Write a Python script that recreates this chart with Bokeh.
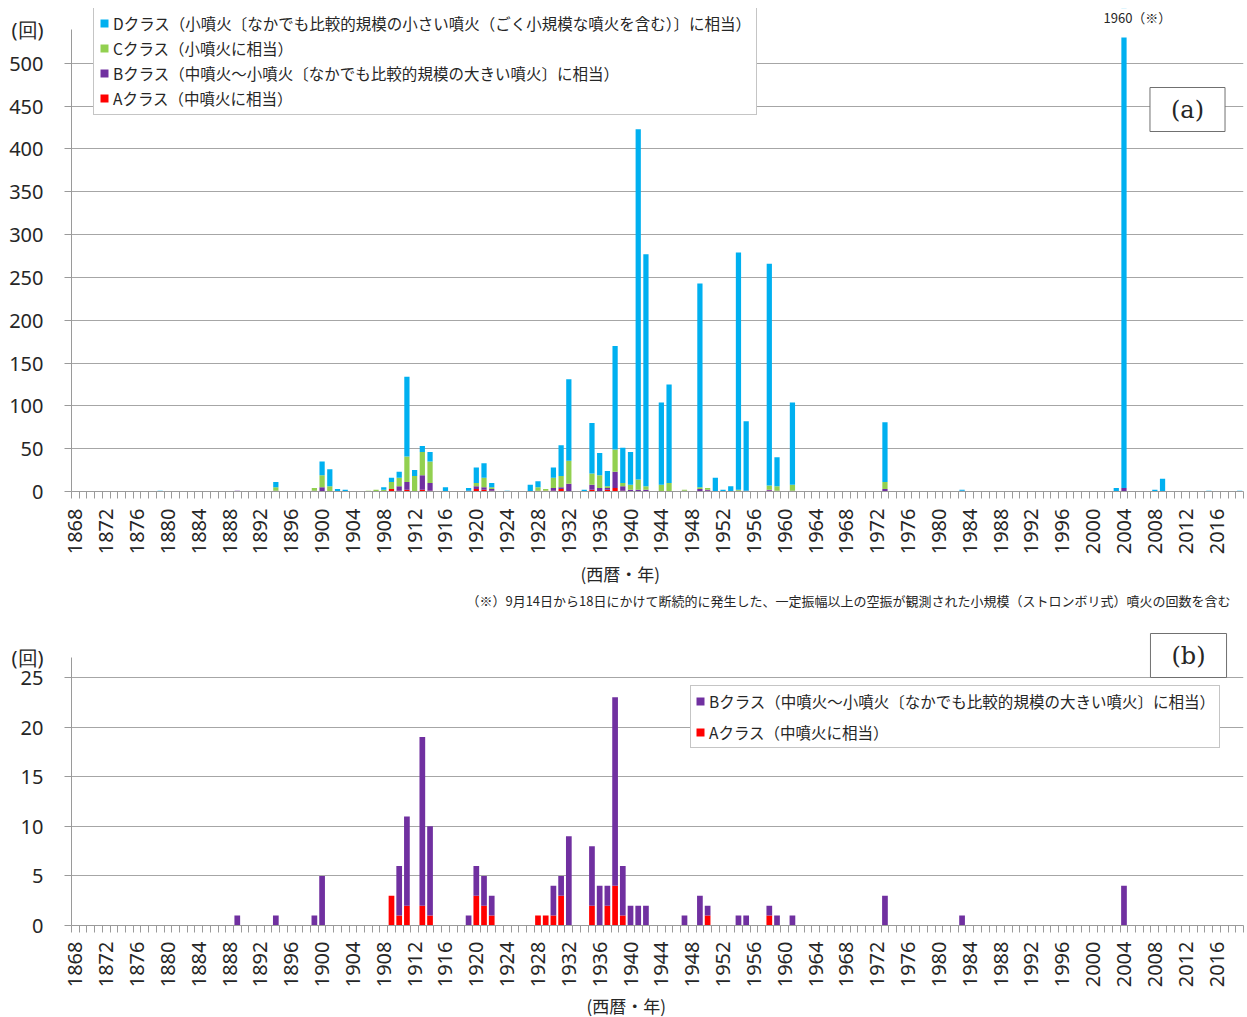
import numpy as np
from bokeh.plotting import figure
from bokeh.models import ColumnDataSource, FixedTicker, Legend, LegendItem, Label, Title
from bokeh.layouts import column
from bokeh.embed import file_html
from bokeh.resources import INLINE

# ---------------- data ----------------
YEARS = list(range(1868, 2020))
TICK_YEARS = list(range(1868, 2017, 4))
Y_TICKS_A = list(range(0, 501, 50))
Y_TICKS_B = list(range(0, 26, 5))
Y_MAX_A = 530          # visible top of the (a) value axis

# counts per year (years not listed = 0)
A_CLASS = {1909: 3, 1910: 1, 1911: 2, 1913: 2, 1914: 1, 1920: 3, 1921: 2, 1922: 1,
           1928: 1, 1929: 1, 1930: 1, 1931: 3, 1935: 2, 1937: 2, 1938: 4, 1939: 1,
           1950: 1, 1958: 1}
B_CLASS = {1889: 1, 1894: 1, 1899: 1, 1900: 5, 1910: 5, 1911: 9, 1913: 17, 1914: 9,
           1919: 1, 1920: 3, 1921: 3, 1922: 2, 1930: 3, 1931: 2, 1932: 9, 1935: 6,
           1936: 4, 1937: 2, 1938: 19, 1939: 5, 1940: 2, 1941: 2, 1942: 2, 1947: 1,
           1949: 3, 1950: 1, 1954: 1, 1955: 1, 1958: 1, 1959: 1, 1961: 1, 1973: 3,
           1983: 1, 2004: 4}
C_CLASS = {1894: 4, 1899: 3, 1900: 14, 1901: 6, 1906: 1, 1907: 2, 1908: 2, 1909: 8,
           1910: 10, 1911: 30, 1912: 18, 1913: 27, 1914: 25, 1920: 4, 1921: 11,
           1922: 2, 1928: 4, 1929: 2, 1930: 12, 1931: 13, 1932: 27, 1935: 13,
           1936: 15, 1937: 2, 1938: 26, 1939: 4, 1940: 6, 1941: 12, 1942: 4,
           1944: 8, 1945: 10, 1947: 1, 1949: 2, 1950: 2, 1954: 1, 1958: 5,
           1959: 5, 1961: 7, 1973: 8}
D_CLASS = {1879: 1, 1894: 6, 1900: 16, 1901: 20, 1902: 3, 1903: 2, 1908: 3, 1909: 5,
           1910: 7, 1911: 93, 1912: 7, 1913: 7, 1914: 11, 1916: 5, 1919: 3, 1920: 18,
           1921: 17, 1922: 5, 1924: 1, 1927: 8, 1928: 7, 1930: 12, 1931: 36,
           1932: 95, 1934: 2, 1935: 59, 1936: 26, 1937: 18, 1938: 121, 1939: 41,
           1940: 38, 1941: 409, 1942: 271, 1944: 96, 1945: 115, 1949: 238,
           1951: 16, 1952: 2, 1953: 6, 1954: 277, 1955: 81, 1958: 259, 1959: 34,
           1961: 96, 1973: 70, 1983: 1, 2003: 4, 2004: 1956, 2008: 2, 2009: 15,
           2015: 1, 2019: 1}

LABEL_D = "Dクラス（小噴火〔なかでも比較的規模の小さい噴火（ごく小規模な噴火を含む）〕に相当）"
LABEL_C = "Cクラス（小噴火に相当）"
LABEL_B = "Bクラス（中噴火～小噴火〔なかでも比較的規模の大きい噴火〕に相当）"
LABEL_A = "Aクラス（中噴火に相当）"
X_TITLE = "(西暦・年)"
Y_UNIT = "(回)"
NOTE = "（※）9月14日から18日にかけて断続的に発生した、一定振幅以上の空振が観測された小規模（ストロンボリ式）噴火の回数を含む"
OVER_LABEL = "1960（※）"


def series(d):
    return [d.get(y, 0) for y in YEARS]


src = ColumnDataSource(dict(year=YEARS, A=series(A_CLASS), B=series(B_CLASS),
                            C=series(C_CLASS), D=series(D_CLASS)))

BLUE, GREEN, PURPLE, RED = "#00B0F0", "#92D050", "#7030A0", "#FF0000"
JP = "Noto Sans CJK JP"
NUM = "Noto Sans"
GRID = "#a6a6a6"
AX = "#9a9a9a"
TXT = "#262626"


def style_axes(p, yticks, unit_pos, xstandoff):
    p.outline_line_color = None
    p.xgrid.visible = False
    p.ygrid.ticker = FixedTicker(ticks=yticks)
    p.ygrid.grid_line_color = GRID
    p.ygrid.grid_line_width = 1
    # value axis; the unit "(回)" is shown as an extra label above the top tick
    p.yaxis.ticker = FixedTicker(ticks=yticks + [unit_pos], minor_ticks=yticks)
    p.yaxis.major_label_overrides = {unit_pos: Y_UNIT}
    p.yaxis.bounds = (0, unit_pos)
    p.yaxis.axis_line_color = AX
    p.yaxis.major_tick_line_color = None
    p.yaxis.major_tick_out = 0
    p.yaxis.major_tick_in = 0
    p.yaxis.minor_tick_line_color = AX
    p.yaxis.minor_tick_out = 7
    p.yaxis.minor_tick_in = 0
    p.yaxis.major_label_text_font = NUM
    p.yaxis.major_label_text_font_size = "20px"
    p.yaxis.major_label_text_color = TXT
    p.yaxis.major_label_standoff = 21
    p.xaxis.ticker = FixedTicker(ticks=TICK_YEARS,
                                 minor_ticks=[y - 0.5 for y in range(1868, 2021)])
    p.xaxis.axis_line_color = AX
    p.xaxis.major_tick_out = 0
    p.xaxis.major_tick_in = 0
    p.xaxis.minor_tick_out = 7
    p.xaxis.minor_tick_in = 0
    p.xaxis.minor_tick_line_color = AX
    p.xaxis.major_label_orientation = np.pi / 2
    p.xaxis.major_label_text_font = NUM
    p.xaxis.major_label_text_font_size = "20px"
    p.xaxis.major_label_text_color = TXT
    p.xaxis.major_label_standoff = xstandoff


def make_legend(items, loc, label_h, spacing, pad):
    return Legend(items=items, location=loc, orientation="vertical",
                  label_text_font=JP, label_text_font_size="15.5px", label_text_color=TXT,
                  glyph_width=10, glyph_height=10, label_height=label_h, spacing=spacing,
                  padding=pad, margin=0, label_standoff=4,
                  border_line_color="#8c8c8c", background_fill_color="white",
                  background_fill_alpha=1)


# ---------------- panel (a) ----------------
pa = figure(width=1245, height=614, x_range=(1867.5, 2019.5), y_range=(0, 564),
            output_backend="svg", toolbar_location=None,
            min_border_left=71, min_border_right=2, min_border_top=8, min_border_bottom=123)
style_axes(pa, Y_TICKS_A, 539, 10)

ra = pa.vbar_stack(["A", "B", "C", "D"], x="year", width=0.68, source=src,
                   fill_color=[RED, PURPLE, GREEN, BLUE], line_color=None)
# the value axis stops at Y_MAX_A: bars taller than that are cut there
pa.quad(left=[1867.5], right=[2019.5], bottom=[Y_MAX_A], top=[600],
        fill_color="white", line_color=None)

pa.add_layout(make_legend([LegendItem(label=LABEL_D, renderers=[ra[3]]),
                           LegendItem(label=LABEL_C, renderers=[ra[2]]),
                           LegendItem(label=LABEL_B, renderers=[ra[1]]),
                           LegendItem(label=LABEL_A, renderers=[ra[0]])],
                          (22, 376), 21, 3, 5))

pa.add_layout(Label(x=1116, y=382, x_units="screen", y_units="screen", text="(a)",
                    text_font="DejaVu Serif", text_font_size="24px", text_color=TXT,
                    text_align="center", text_baseline="middle",
                    background_fill_color="white", border_line_color="#707070",
                    padding=(21, 8)))
pa.add_layout(Label(x=1032, y=474, x_units="screen", y_units="screen", text=OVER_LABEL,
                    text_font=JP, text_font_size="13px", text_color=TXT,
                    text_align="left", text_baseline="middle"))
pa.add_layout(Title(text=X_TITLE, align="left", offset=509, text_font=JP,
                    text_font_size="17px", text_font_style="normal", text_color=TXT,
                    standoff=2), "below")
pa.add_layout(Title(text=NOTE, align="right", offset=13, text_font=JP,
                    text_font_size="13px", text_font_style="normal", text_color=TXT,
                    standoff=4), "below")

# ---------------- panel (b) ----------------
pb = figure(width=1245, height=403, x_range=(1867.5, 2019.5), y_range=(0, 30.04),
            output_backend="svg", toolbar_location=None,
            min_border_left=67, min_border_right=2, min_border_top=13, min_border_bottom=90)
style_axes(pb, Y_TICKS_B, 27, 9)

rb = pb.vbar_stack(["A", "B"], x="year", width=0.74, source=src,
                   fill_color=[RED, PURPLE], line_color=None)

pb.add_layout(make_legend([LegendItem(label=LABEL_B, renderers=[rb[1]]),
                           LegendItem(label=LABEL_A, renderers=[rb[0]])],
                          (619, 177), 21, 9, 4))

pb.add_layout(Label(x=1117, y=270, x_units="screen", y_units="screen", text="(b)",
                    text_font="DejaVu Serif", text_font_size="24px", text_color=TXT,
                    text_align="center", text_baseline="middle",
                    background_fill_color="white", border_line_color="#707070",
                    padding=(21, 8)))
pb.add_layout(Title(text=X_TITLE, align="left", offset=515, text_font=JP,
                    text_font_size="17px", text_font_style="normal", text_color=TXT,
                    standoff=0), "below")

layout = column(pa, pb, spacing=0)
open("out.html", "w").write(file_html(layout, INLINE))
